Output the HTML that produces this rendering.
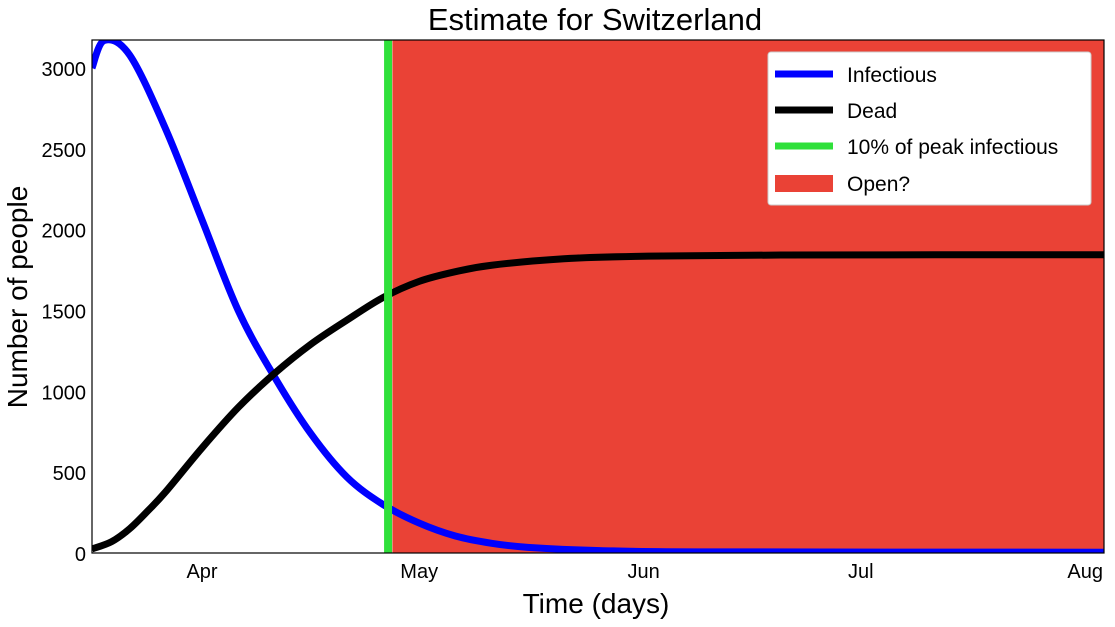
<!DOCTYPE html>
<html><head><meta charset="utf-8"><style>
body{margin:0;background:#fff;}
svg text{font-family:"Liberation Sans",sans-serif;fill:#000;}
</style></head><body>
<svg id="chart" width="1115" height="622" xmlns="http://www.w3.org/2000/svg">
<defs><clipPath id="pc"><rect x="92" y="40" width="1012" height="513"/></clipPath></defs>
<g id="plot" clip-path="url(#pc)"></g>
<rect x="92" y="40" width="1012" height="513" fill="none" stroke="#000" stroke-width="1.2"/>
<g id="axes"></g>
<text x="595" y="30" font-size="31" text-anchor="middle">Estimate for Switzerland</text>
<text x="596" y="613" font-size="28" text-anchor="middle">Time (days)</text>
<text transform="translate(27,297) rotate(-90)" font-size="28" text-anchor="middle">Number of people</text>
<g>
<rect x="768" y="52" width="323" height="153" rx="3" fill="#fff" stroke="#ccc"/>
<line x1="775" x2="833" y1="74" y2="74" stroke="#0000ff" stroke-width="7"/>
<text x="847" y="82" font-size="21">Infectious</text>
<line x1="775" x2="833" y1="110" y2="110" stroke="#000" stroke-width="7"/>
<text x="847" y="118" font-size="21">Dead</text>
<line x1="775" x2="833" y1="146" y2="146" stroke="#2fe03a" stroke-width="7"/>
<text x="847" y="154" font-size="21">10% of peak infectious</text>
<rect x="775" y="175" width="58" height="17" fill="#ea4236"/>
<text x="847" y="191" font-size="21">Open?</text>
</g>
</svg>
<script>
// day 0 = Apr 1
const infDays = [-15.2,-13.5,-10,-5,0,5,10,15,20,25,30,35,40,45,55,70,125];
const infVals = [3000,3170,3080,2620,2060,1500,1090,740,470,300,185,105,60,35,15,7,5];
const deadDays = [-15.2,-12.5,-10,-7.5,-5,0,5,10,15,20,25,30,35,40,50,60,80,125];
const deadVals = [25,70,150,260,380,650,900,1110,1290,1440,1580,1680,1740,1780,1820,1835,1843,1845];
const peakDay = [25.7];
const openRange = [26.3,125];
const xTickDays = [0,30,61,91,122];
const xTickLabels = ["Apr","May","Jun","Jul","Aug"];
const yTicks = [0,500,1000,1500,2000,2500,3000];

const X0=92,X1=1104,Y0=553,Y1=40,D0=-15.2,D1=124.6,V1=3173;
const xs=d=>X0+(d-D0)/(D1-D0)*(X1-X0);
const ys=v=>Y0-v/V1*(Y0-Y1);
const NS="http://www.w3.org/2000/svg";
const plot=document.getElementById('plot'),axes=document.getElementById('axes');
function mk(t,a,p){const e=document.createElementNS(NS,t);for(const k in a)e.setAttribute(k,a[k]);p.appendChild(e);return e;}
function path(ds,vs){const p=ds.map((d,i)=>[xs(d),ys(vs[i])]);let s=`M${p[0][0]},${p[0][1]}`;
for(let i=0;i<p.length-1;i++){const a=p[Math.max(0,i-1)],b=p[i],c=p[i+1],d=p[Math.min(p.length-1,i+2)];
s+=`C${b[0]+(c[0]-a[0])/6},${b[1]+(c[1]-a[1])/6} ${c[0]-(d[0]-b[0])/6},${c[1]-(d[1]-b[1])/6} ${c[0]},${c[1]}`;}return s;}
const open=mk('rect',{x:xs(openRange[0]),y:Y1,width:xs(openRange[1])-xs(openRange[0]),height:Y0-Y1,fill:'#ea4236'},plot);


const inf=mk('path',{d:path(infDays,infVals),fill:'none',stroke:'#0000ff','stroke-width':7},plot);


const dead=mk('path',{d:path(deadDays,deadVals),fill:'none',stroke:'#000','stroke-width':7},plot);


const pk=mk('line',{x1:xs(peakDay[0]),x2:xs(peakDay[0]),y1:Y1,y2:Y0,stroke:'#2fe03a','stroke-width':8},plot);


yTicks.forEach(v=>{const t=mk('text',{x:86,y:ys(v)+8,'font-size':20,'text-anchor':'end'},axes);t.textContent=v;

});
xTickDays.forEach((d,i)=>{let x=xs(d);const t=mk('text',{x:Math.min(x,1099),y:578,'font-size':20,'text-anchor':'middle'},axes);t.textContent=xTickLabels[i];

});
</script>
</body></html>
